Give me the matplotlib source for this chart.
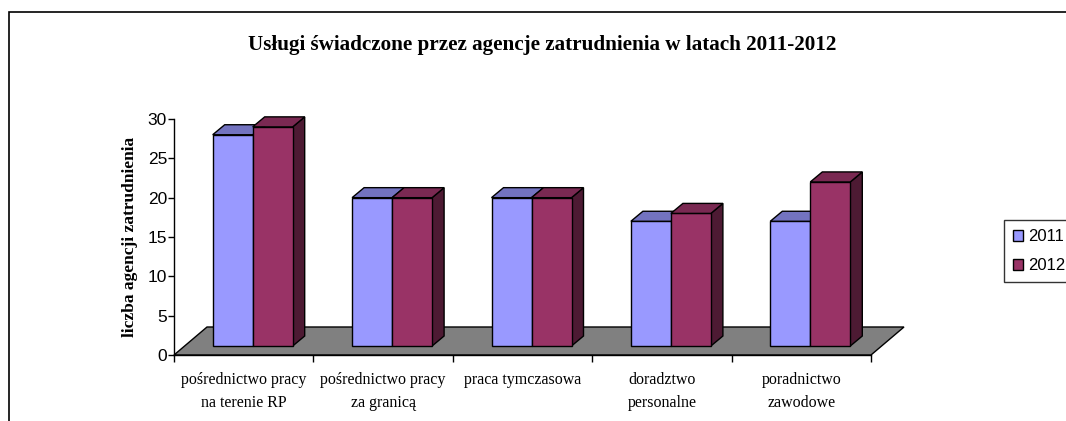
import matplotlib
matplotlib.use("Agg")
import matplotlib.pyplot as plt
from matplotlib.patches import Polygon, Rectangle
import numpy as np

categories = ["pośrednictwo pracy\nna terenie RP", "pośrednictwo pracy\nza granicą",
              "praca tymczasowa", "doradztwo\npersonalne", "poradnictwo\nzawodowe"]
series_names = ["2011", "2012"]
values_2011 = [28, 20, 20, 17, 17]
values_2012 = [29, 20, 20, 18, 22]
yticks = [0, 5, 10, 15, 20, 25, 30]
title = "Usługi świadczone przez agencje zatrudnienia w latach 2011-2012"
ylabel = "liczba agencji zatrudnienia"

W, H = 1066, 421
fig = plt.figure(figsize=(W / 100, H / 100), dpi=100)
fig.patch.set_facecolor("white")

# outer frame
fig.add_artist(Rectangle((9 / W, -0.05), 1.1, (421 - 12) / H + 0.05, transform=fig.transFigure,
                         fill=False, edgecolor="black", linewidth=1.2))

x0, x1 = 174, 871
y0, y30 = 355, 119
ax = fig.add_axes([x0 / W, (H - y0) / H, (x1 - x0) / W, (y0 - y30) / H])
ax.set_xlim(0, 5)
ax.set_ylim(0, 30)
ax.set_facecolor("none")

px_x = (x1 - x0) / 5.0      # pixels per category
px_y = (y0 - y30) / 30.0    # pixels per unit

# floor
fdx, fdy = 33 / px_x, 28 / px_y
floor = Polygon([(0, 0), (5, 0), (5 + fdx, fdy), (fdx, fdy)], closed=True,
                facecolor="#808080", edgecolor="black", linewidth=1.0, clip_on=False, zorder=1)
ax.add_patch(floor)

# bars
n = len(categories)
idx = np.arange(n)
bw = 40 / px_x
start = 38.7 / px_x
base = 9 / px_y
ddx, ddy = 12 / px_x, 10 / px_y

front_cols = ["#9999FF", "#993366"]
top_cols = ["#7373C0", "#7A2952"]
side_cols = ["#4D4D80", "#4D1A33"]

for s, vals in enumerate([values_2011, values_2012]):
    lefts = idx + start + s * bw
    bars = ax.bar(lefts, np.array(vals) - base, width=bw, bottom=base, align="edge",
                  color=front_cols[s], edgecolor="black", linewidth=1.0, zorder=3 + s,
                  clip_on=False, label=series_names[s])
    for l, v in zip(lefts, vals):
        r = l + bw
        top = Polygon([(l, v), (r, v), (r + ddx, v + ddy), (l + ddx, v + ddy)], closed=True,
                      facecolor=top_cols[s], edgecolor="black", linewidth=1.0,
                      clip_on=False, zorder=3 + s)
        side = Polygon([(r, base), (r + ddx, base + ddy), (r + ddx, v + ddy), (r, v)], closed=True,
                       facecolor=side_cols[s], edgecolor="black", linewidth=1.0,
                       clip_on=False, zorder=2.5 + s)
        ax.add_patch(side)
        ax.add_patch(top)

# axes styling
for sp in ["top", "right"]:
    ax.spines[sp].set_visible(False)
ax.spines["left"].set_linewidth(1.0)
ax.spines["bottom"].set_linewidth(1.0)
ax.spines["left"].set_zorder(5)
ax.spines["bottom"].set_zorder(5)
ax.set_yticks(yticks)
ax.set_yticklabels([str(t) for t in yticks], fontsize=12.5, family="Liberation Sans")
ax.tick_params(axis="y", length=4, width=1, pad=1)
ax.set_xticks(np.arange(n + 1))
ax.set_xticklabels([])
ax.tick_params(axis="x", which="major", length=5, width=1)
ax.set_xticks(idx + 0.5, minor=True)
ax.set_xticklabels(categories, minor=True, fontsize=11.5, family="Liberation Serif",
                   linespacing=1.6)
ax.tick_params(axis="x", which="minor", length=0, pad=12)

ax.set_ylabel(ylabel, fontsize=12.5, family="Liberation Serif", fontweight="bold", labelpad=7)

fig.text(542 / W, 1 - 45 / H, title, ha="center", va="center", fontsize=15.2,
         family="Liberation Serif", fontweight="bold")

# legend
leg = fig.legend(loc="upper left", bbox_to_anchor=(1004 / W, 1 - 220 / H), frameon=True,
                 prop={"family": "Liberation Sans", "size": 12},
                 handlelength=0.6, handleheight=0.6, handletextpad=0.3, borderpad=0.55,
                 labelspacing=0.85, fancybox=False, edgecolor="black", borderaxespad=0)
leg.get_frame().set_linewidth(1.0)

fig.savefig("out.png", dpi=100, facecolor="white")
